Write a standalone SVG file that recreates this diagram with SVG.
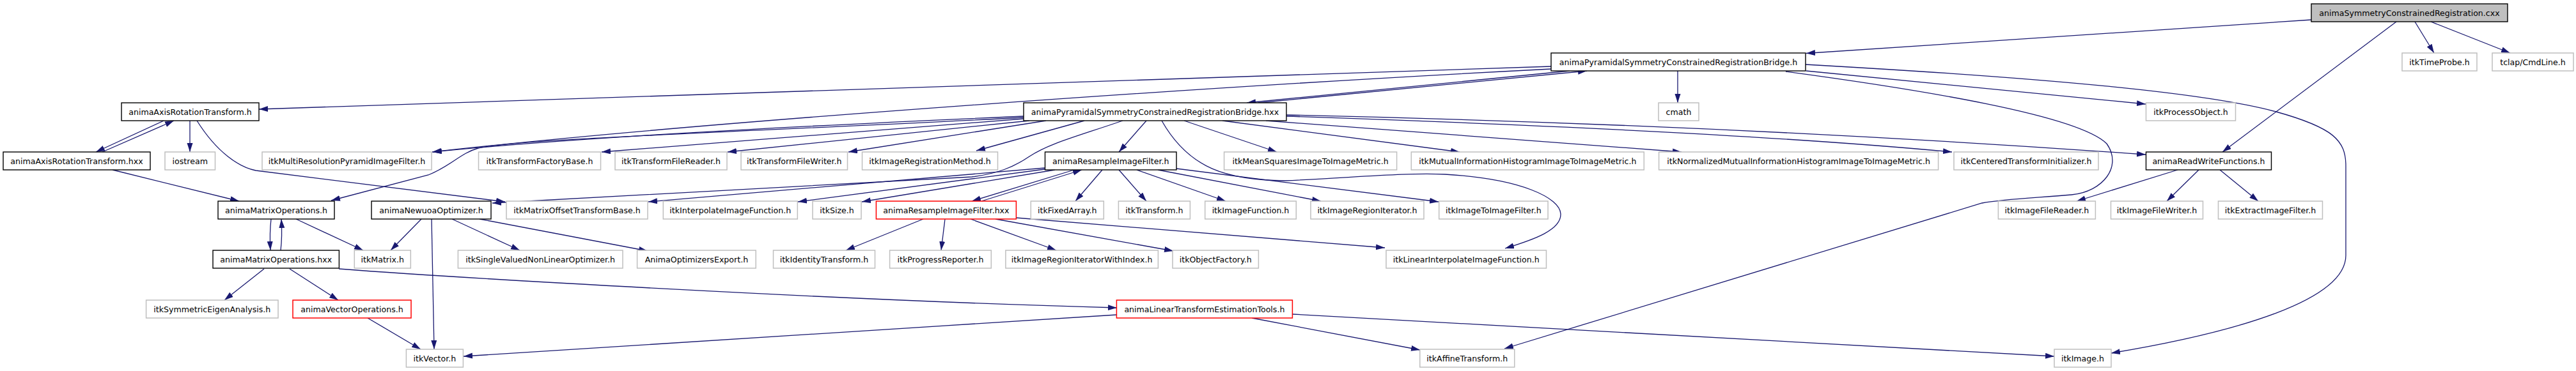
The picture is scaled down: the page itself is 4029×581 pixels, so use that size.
<svg xmlns="http://www.w3.org/2000/svg" width="4029" height="581" viewBox="0 0 4029 581">
<style>
.n rect{fill:#fff;stroke:#bfbfbf;stroke-width:1.5}
.d rect{stroke:#000;stroke-width:1.4}
.r rect{stroke:#ff0000}
.root rect{fill:#bfbfbf;stroke:#000;stroke-width:1.4}
text{font-family:"DejaVu Sans",sans-serif;font-size:12.6px;text-anchor:middle;fill:#000}
#edges path{fill:none;stroke:#191970;stroke-width:1.3;marker-end:url(#a)}
</style>
<defs>
<marker id="a" markerUnits="userSpaceOnUse" markerWidth="15" markerHeight="10" refX="14" refY="4.5" orient="auto"><path d="M0,0 L14,4.5 L0,9 z" fill="#191970"/></marker>
</defs>
<rect width="4029" height="581" fill="#fff"/>
<g id="edges">
<path d="M3615,31 L2825,83.5"/>
<path d="M3777,34 L3807,83"/>
<path d="M3802,34 L3926,83"/>
<path d="M3748,34 L3476,238"/>
<path d="M2426,104 L405,171"/>
<path d="M2426,108 C1900,135 1100,190 676,238"/>
<path d="M2624,111 L2624,161"/>
<path d="M2825,111 L3356,163"/>
<path d="M2824,101 C3200,122 3450,145 3560,175 C3650,200 3669,220 3669,260 L3669,400 C3669,470 3500,520 3302,553"/>
<path d="M2793,112 C3000,140 3250,180 3295,225 C3320,260 3290,300 3240,305 C3180,310 3130,312 3100,318 L2353,546"/>
<path d="M2455,111 L1950,161"/>
<path d="M1968,161 L2482,111"/>
<path d="M1601,182 C1300,195 900,215 677,238"/>
<path d="M1601,184 C1200,205 800,218 748,232 C720,240 705,260 670,274 L518,314"/>
<path d="M1601,186 L941,238"/>
<path d="M1610,189 L1138,238"/>
<path d="M1636,189 L1327,238"/>
<path d="M1696,189 L1527,236"/>
<path d="M1756,189 C1680,215 1640,225 1610,245 C1585,262 1560,272 1520,277 L770,318"/>
<path d="M1793,189 L1750,238"/>
<path d="M1817,189 C1860,265 1920,282 2010,283 C2120,278 2200,270 2260,273 C2380,280 2440,310 2441,335 C2442,360 2400,375 2354,389"/>
<path d="M1852,189 L1997,238"/>
<path d="M1912,189 L2283,238"/>
<path d="M1980,189 L2630,238"/>
<path d="M2012,182 Q2700,205 3053,238"/>
<path d="M2012,180 Q2700,195 3356,242"/>
<path d="M256,189 L150,238"/>
<path d="M160,238 L272,189"/>
<path d="M297,189 L297,238"/>
<path d="M308,189 C340,240 375,262 400,267 L790,316"/>
<path d="M176,266 L374,315"/>
<path d="M424,343 C422,360 422,375 423,392"/>
<path d="M439,392 C441,375 441,360 440,343"/>
<path d="M463,343 L568,392"/>
<path d="M413,421 L351,470"/>
<path d="M453,421 L529,470"/>
<path d="M530,421 C700,434 1300,470 1747,482"/>
<path d="M575,498 L658,547"/>
<path d="M659,343 L611,392"/>
<path d="M675,343 L679,547"/>
<path d="M707,343 L813,392"/>
<path d="M750,343 L1013,393"/>
<path d="M1746,493 L725,558"/>
<path d="M1958,498 L2221,548"/>
<path d="M2021,492 L3213,558"/>
<path d="M1680,266 L1520,315"/>
<path d="M1535,315 L1692,266"/>
<path d="M1724,266 L1682,315"/>
<path d="M1750,266 L1793,315"/>
<path d="M1778,266 L1917,315"/>
<path d="M1811,266 L2066,315"/>
<path d="M1840,264 L2250,316"/>
<path d="M1634,263 L1014,316"/>
<path d="M1634,265 L1248,316"/>
<path d="M1650,266 L1348,316"/>
<path d="M1444,343 L1323,392"/>
<path d="M1478,343 L1472,392"/>
<path d="M1518,343 L1652,392"/>
<path d="M1557,343 L1835,393"/>
<path d="M1589,341 L2166,388"/>
<path d="M3406,266 L3248,315"/>
<path d="M3439,266 L3389,315"/>
<path d="M3472,266 L3532,315"/>
</g>
<g id="cxx" class="n root"><rect x="3615" y="6" width="307" height="28"/><text x="3768.5" y="24.5">animaSymmetryConstrainedRegistration.cxx</text></g>
<g id="bridge_h" class="n d"><rect x="2426" y="83" width="398" height="28"/><text x="2625" y="101.5">animaPyramidalSymmetryConstrainedRegistrationBridge.h</text></g>
<g id="timeprobe" class="n"><rect x="3757" y="83" width="117" height="28"/><text x="3815.5" y="101.5">itkTimeProbe.h</text></g>
<g id="tclap" class="n"><rect x="3898" y="83" width="127" height="28"/><text x="3961.5" y="101.5">tclap/CmdLine.h</text></g>
<g id="axis_h" class="n d"><rect x="190" y="161" width="215" height="28"/><text x="297.5" y="179.5">animaAxisRotationTransform.h</text></g>
<g id="bridge_hxx" class="n d"><rect x="1601" y="161" width="411" height="28"/><text x="1806.5" y="179.5">animaPyramidalSymmetryConstrainedRegistrationBridge.hxx</text></g>
<g id="cmath" class="n"><rect x="2594" y="161" width="63" height="28"/><text x="2625.5" y="179.5">cmath</text></g>
<g id="processobject" class="n"><rect x="3356.5" y="161" width="140" height="28"/><text x="3426.5" y="179.5">itkProcessObject.h</text></g>
<g id="axis_hxx" class="n d"><rect x="5" y="238" width="230" height="28"/><text x="120" y="256.5">animaAxisRotationTransform.hxx</text></g>
<g id="iostream" class="n"><rect x="258" y="238" width="78.5" height="28"/><text x="297.25" y="256.5">iostream</text></g>
<g id="multires" class="n"><rect x="410" y="238" width="265" height="28"/><text x="542.5" y="256.5">itkMultiResolutionPyramidImageFilter.h</text></g>
<g id="tfactory" class="n"><rect x="748.5" y="238" width="191" height="28"/><text x="844" y="256.5">itkTransformFactoryBase.h</text></g>
<g id="tfreader" class="n"><rect x="962" y="238" width="175" height="28"/><text x="1049.5" y="256.5">itkTransformFileReader.h</text></g>
<g id="tfwriter" class="n"><rect x="1159" y="238" width="166.5" height="28"/><text x="1242.25" y="256.5">itkTransformFileWriter.h</text></g>
<g id="imgregmethod" class="n"><rect x="1348.5" y="238" width="212" height="28"/><text x="1454.5" y="256.5">itkImageRegistrationMethod.h</text></g>
<g id="resample_h" class="n d"><rect x="1634.5" y="238" width="205.5" height="28"/><text x="1737.25" y="256.5">animaResampleImageFilter.h</text></g>
<g id="meansquares" class="n"><rect x="1914.6" y="238" width="270" height="28"/><text x="2049.6" y="256.5">itkMeanSquaresImageToImageMetric.h</text></g>
<g id="mutualinfo" class="n"><rect x="2207.3" y="238" width="364" height="28"/><text x="2389.3" y="256.5">itkMutualInformationHistogramImageToImageMetric.h</text></g>
<g id="normalized" class="n"><rect x="2594.6" y="238" width="437" height="28"/><text x="2813.1" y="256.5">itkNormalizedMutualInformationHistogramImageToImageMetric.h</text></g>
<g id="centered" class="n"><rect x="3056" y="238" width="226" height="28"/><text x="3169" y="256.5">itkCenteredTransformInitializer.h</text></g>
<g id="readwrite" class="n d"><rect x="3356.5" y="238" width="196" height="28"/><text x="3454.5" y="256.5">animaReadWriteFunctions.h</text></g>
<g id="matrixops_h" class="n d"><rect x="341" y="315" width="182" height="28"/><text x="432" y="333.5">animaMatrixOperations.h</text></g>
<g id="newuoa" class="n d"><rect x="581" y="315" width="187" height="28"/><text x="674.5" y="333.5">animaNewuoaOptimizer.h</text></g>
<g id="matrixoffset" class="n"><rect x="792" y="315" width="221" height="28"/><text x="902.5" y="333.5">itkMatrixOffsetTransformBase.h</text></g>
<g id="interpolate" class="n"><rect x="1037.3" y="315" width="210" height="28"/><text x="1142.3" y="333.5">itkInterpolateImageFunction.h</text></g>
<g id="size" class="n"><rect x="1271" y="315" width="76" height="28"/><text x="1309" y="333.5">itkSize.h</text></g>
<g id="resample_hxx" class="n r"><rect x="1370.4" y="315" width="219" height="28"/><text x="1479.9" y="333.5">animaResampleImageFilter.hxx</text></g>
<g id="fixedarray" class="n"><rect x="1612.3" y="315" width="114" height="28"/><text x="1669.3" y="333.5">itkFixedArray.h</text></g>
<g id="transform" class="n"><rect x="1749.4" y="315" width="112" height="28"/><text x="1805.4" y="333.5">itkTransform.h</text></g>
<g id="imagefunction" class="n"><rect x="1884.7" y="315" width="142.6" height="28"/><text x="1956" y="333.5">itkImageFunction.h</text></g>
<g id="regioniter" class="n"><rect x="2050" y="315" width="177" height="28"/><text x="2138.5" y="333.5">itkImageRegionIterator.h</text></g>
<g id="imgtoimg" class="n"><rect x="2250.7" y="315" width="170.4" height="28"/><text x="2335.9" y="333.5">itkImageToImageFilter.h</text></g>
<g id="filereader" class="n"><rect x="3125.4" y="315" width="152" height="28"/><text x="3201.4" y="333.5">itkImageFileReader.h</text></g>
<g id="filewriter" class="n"><rect x="3301.5" y="315" width="144" height="28"/><text x="3373.5" y="333.5">itkImageFileWriter.h</text></g>
<g id="extract" class="n"><rect x="3469.5" y="315" width="163" height="28"/><text x="3551" y="333.5">itkExtractImageFilter.h</text></g>
<g id="matrixops_hxx" class="n d"><rect x="333" y="392" width="197.4" height="28"/><text x="431.7" y="410.5">animaMatrixOperations.hxx</text></g>
<g id="matrix" class="n"><rect x="554.3" y="392" width="88" height="28"/><text x="598.3" y="410.5">itkMatrix.h</text></g>
<g id="singlevalued" class="n"><rect x="716.4" y="392" width="257.6" height="28"/><text x="845.2" y="410.5">itkSingleValuedNonLinearOptimizer.h</text></g>
<g id="optexport" class="n"><rect x="996.6" y="392" width="185.6" height="28"/><text x="1089.4" y="410.5">AnimaOptimizersExport.h</text></g>
<g id="identity" class="n"><rect x="1209.5" y="392" width="159" height="28"/><text x="1289" y="410.5">itkIdentityTransform.h</text></g>
<g id="progress" class="n"><rect x="1391.6" y="392" width="158.7" height="28"/><text x="1471" y="410.5">itkProgressReporter.h</text></g>
<g id="regioniterwi" class="n"><rect x="1572.9" y="392" width="238.5" height="28"/><text x="1692.15" y="410.5">itkImageRegionIteratorWithIndex.h</text></g>
<g id="objectfactory" class="n"><rect x="1834" y="392" width="134.4" height="28"/><text x="1901.2" y="410.5">itkObjectFactory.h</text></g>
<g id="linearinterp" class="n"><rect x="2168" y="392" width="250.5" height="28"/><text x="2293.25" y="410.5">itkLinearInterpolateImageFunction.h</text></g>
<g id="symeigen" class="n"><rect x="228.6" y="470" width="206.4" height="28"/><text x="331.8" y="488.5">itkSymmetricEigenAnalysis.h</text></g>
<g id="vectorops" class="n r"><rect x="458" y="470" width="185" height="28"/><text x="550.5" y="488.5">animaVectorOperations.h</text></g>
<g id="lintransest" class="n r"><rect x="1746.4" y="470" width="275" height="28"/><text x="1883.9" y="488.5">animaLinearTransformEstimationTools.h</text></g>
<g id="vector" class="n"><rect x="635.4" y="547" width="89" height="28"/><text x="679.9" y="565.5">itkVector.h</text></g>
<g id="affine" class="n"><rect x="2220.8" y="547" width="148" height="28"/><text x="2294.8" y="565.5">itkAffineTransform.h</text></g>
<g id="image" class="n"><rect x="3213" y="547" width="89" height="28"/><text x="3257.5" y="565.5">itkImage.h</text></g>
</svg>
